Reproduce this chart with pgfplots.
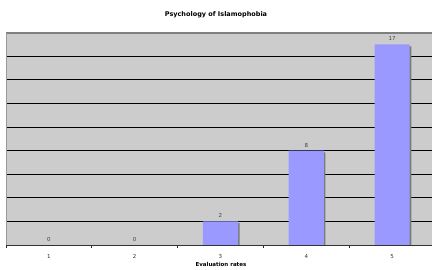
\documentclass[border=0pt]{standalone}
\usepackage{pgfplots}
\pgfplotsset{compat=1.18}
\usepackage{fontspec}
\setmainfont{DejaVu Sans}
\definecolor{bg}{HTML}{CCCCCC}
\definecolor{barc}{HTML}{9999FF}
\definecolor{shadow}{HTML}{7A7A7A}
\pgfkeys{/pgf/number format/assume math mode=true}
\begin{document}
\begin{tikzpicture}[x=1pt,y=1pt]
\useasboundingbox (0,0) rectangle (432,269);
\begin{axis}[at={(6pt,24pt)}, anchor=south west, scale only axis,
  width=429pt, height=212.3pt,
  xmin=0.5, xmax=5.5, ymin=0, ymax=18,
  /pgf/number format/assume math mode=true,
  axis background/.style={fill=bg},
  axis line style={draw=none},
  ytick={2,4,...,16}, yticklabels={},
  ymajorgrids, major grid style={black, line width=0.8pt},
  major y tick style={draw=none},
  xtick={1,...,5}, major x tick style={draw=none},
  minor xtick={0.5,1.5,...,5.5},
  minor x tick style={black!85, line width=0.8pt},
  xtick pos=bottom, ytick pos=left,
  tick align=outside, minor tick length=3pt,
  ticklabel style={font=\fontsize{5.5}{6}\selectfont, text=black!80},
  xticklabel style={yshift=-2pt},
  ybar, bar width=0.41,
  clip=false,
]
\addplot[draw=none, fill=shadow, bar shift=1.6pt] coordinates {(1,0) (2,0) (3,1.85) (4,7.85) (5,16.85)};
\addplot[draw=none, fill=barc, bar shift=0pt,
  nodes near coords, nodes near coords style={font=\fontsize{5.5}{6}\selectfont, text=black!75}]
  coordinates {(1,0) (2,0) (3,2) (4,8) (5,17)};
\draw[black!80, line width=1pt] (rel axis cs:0,0) -- (rel axis cs:1,0);
\draw[gray, line width=1.6pt] (rel axis cs:0,1) -- (rel axis cs:1,1);
\draw[gray!80, line width=0.6pt] (rel axis cs:0,0) -- (rel axis cs:0,1);
\end{axis}
\node[font=\bfseries\fontsize{6.5}{8}\selectfont] at (216,254) {Psychology of Islamophobia};
\node[font=\bfseries\fontsize{5.5}{7}\selectfont] at (221,4.5) {Evaluation rates};
\end{tikzpicture}
\end{document}
